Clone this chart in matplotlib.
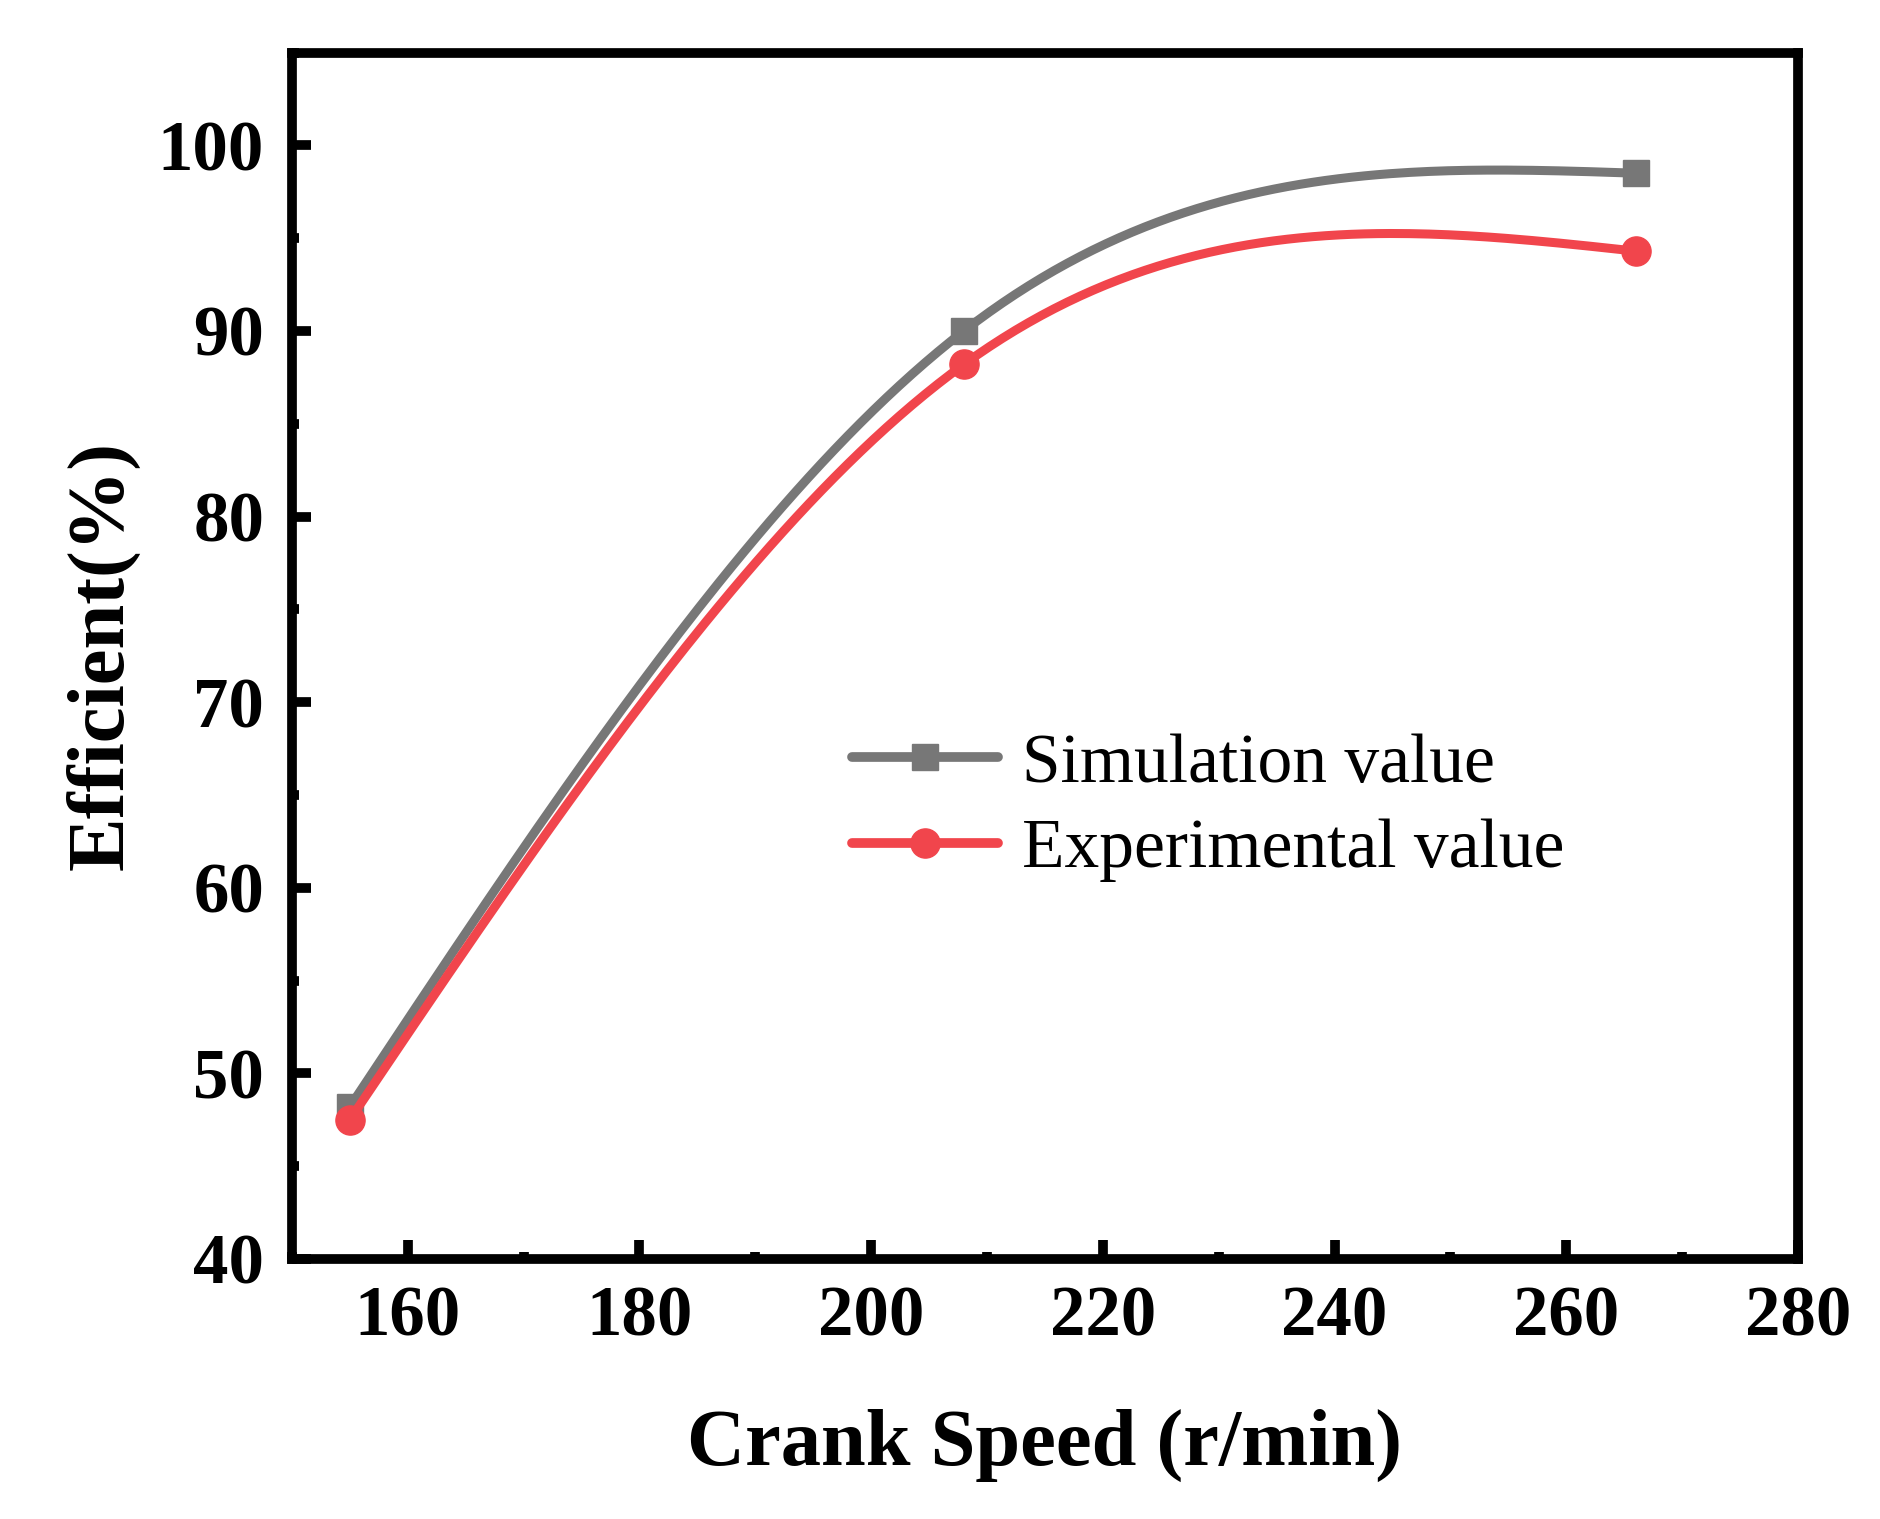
import numpy as np
import matplotlib
matplotlib.use("Agg")
import matplotlib.pyplot as plt
from matplotlib.ticker import MultipleLocator

# data
crank_speed = [155, 208, 266]
simulation = [48.2, 90.0, 98.5]
experimental = [47.5, 88.2, 94.3]

x_ticks = [160, 180, 200, 220, 240, 260, 280]
y_ticks = [40, 50, 60, 70, 80, 90, 100]


def natural_spline(x, y, n=200):
    # smooth curve through the points, like Origin's spline line
    x = np.asarray(x, float)
    y = np.asarray(y, float)
    k = len(x)
    h = np.diff(x)
    A = np.zeros((k, k))
    b = np.zeros(k)
    A[0, 0] = A[-1, -1] = 1
    for i in range(1, k - 1):
        A[i, i - 1] = h[i - 1]
        A[i, i] = 2 * (h[i - 1] + h[i])
        A[i, i + 1] = h[i]
        b[i] = 6 * ((y[i + 1] - y[i]) / h[i] - (y[i] - y[i - 1]) / h[i - 1])
    M = np.linalg.solve(A, b)
    xs = np.linspace(x[0], x[-1], n)
    ys = np.empty_like(xs)
    for j, t in enumerate(xs):
        i = min(np.searchsorted(x, t, side="right") - 1, k - 2)
        a = x[i + 1] - t
        c = t - x[i]
        ys[j] = (M[i] * a**3 + M[i + 1] * c**3) / (6 * h[i]) \
            + (y[i] / h[i] - M[i] * h[i] / 6) * a \
            + (y[i + 1] / h[i] - M[i + 1] * h[i] / 6) * c
    return xs, ys


plt.rcParams["font.family"] = ["Liberation Serif", "DejaVu Serif"]

fig = plt.figure(figsize=(18.81, 15.19), dpi=100)
ax = fig.add_axes([0.1552, 0.1712, 0.8007, 0.7942])

gray = "#777777"
red = "#f1454c"

xs, ys = natural_spline(crank_speed, simulation)
ax.plot(xs, ys, color=gray, lw=6.5, solid_capstyle="round", zorder=2)
ax.plot(crank_speed, simulation, ls="none", marker="s", ms=19, color=gray, zorder=3)

xs, ys = natural_spline(crank_speed, experimental)
ax.plot(xs, ys, color=red, lw=6.5, solid_capstyle="round", zorder=4)
ax.plot(crank_speed, experimental, ls="none", marker="o", ms=21, color=red, zorder=5)

# legend handles
h1, = ax.plot([], [], color=gray, lw=7, marker="s", ms=19, solid_capstyle="round")
h2, = ax.plot([], [], color=red, lw=7, marker="o", ms=21, solid_capstyle="round")
ax.legend([h1, h2], ["Simulation value", "Experimental value"],
          loc="center left", bbox_to_anchor=(0.372, 0.374), frameon=False,
          fontsize=50, handlelength=2.1, handletextpad=0.35, labelspacing=0.32,
          borderaxespad=0, borderpad=0)

ax.set_xlim(150, 280)
ax.set_ylim(40, 105)
ax.set_xticks(x_ticks)
ax.set_yticks(y_ticks)
ax.xaxis.set_minor_locator(MultipleLocator(10))
ax.yaxis.set_minor_locator(MultipleLocator(5))

for s in ax.spines.values():
    s.set_linewidth(7)
ax.tick_params(which="major", direction="in", length=14, width=7,
               labelsize=51, top=False, right=False)
ax.tick_params(axis="x", which="major", pad=19)
ax.tick_params(axis="y", which="major", pad=20)
ax.tick_params(which="minor", direction="in", length=5, width=7,
               top=False, right=False)
for lab in ax.get_xticklabels() + ax.get_yticklabels():
    lab.set_fontweight("bold")

ax.set_xlabel("Crank Speed (r/min)", fontsize=58, fontweight="bold", labelpad=42)
ax.set_ylabel("Efficient(%)", fontsize=58, fontweight="bold", labelpad=13)

fig.savefig("out.png", dpi=100)
